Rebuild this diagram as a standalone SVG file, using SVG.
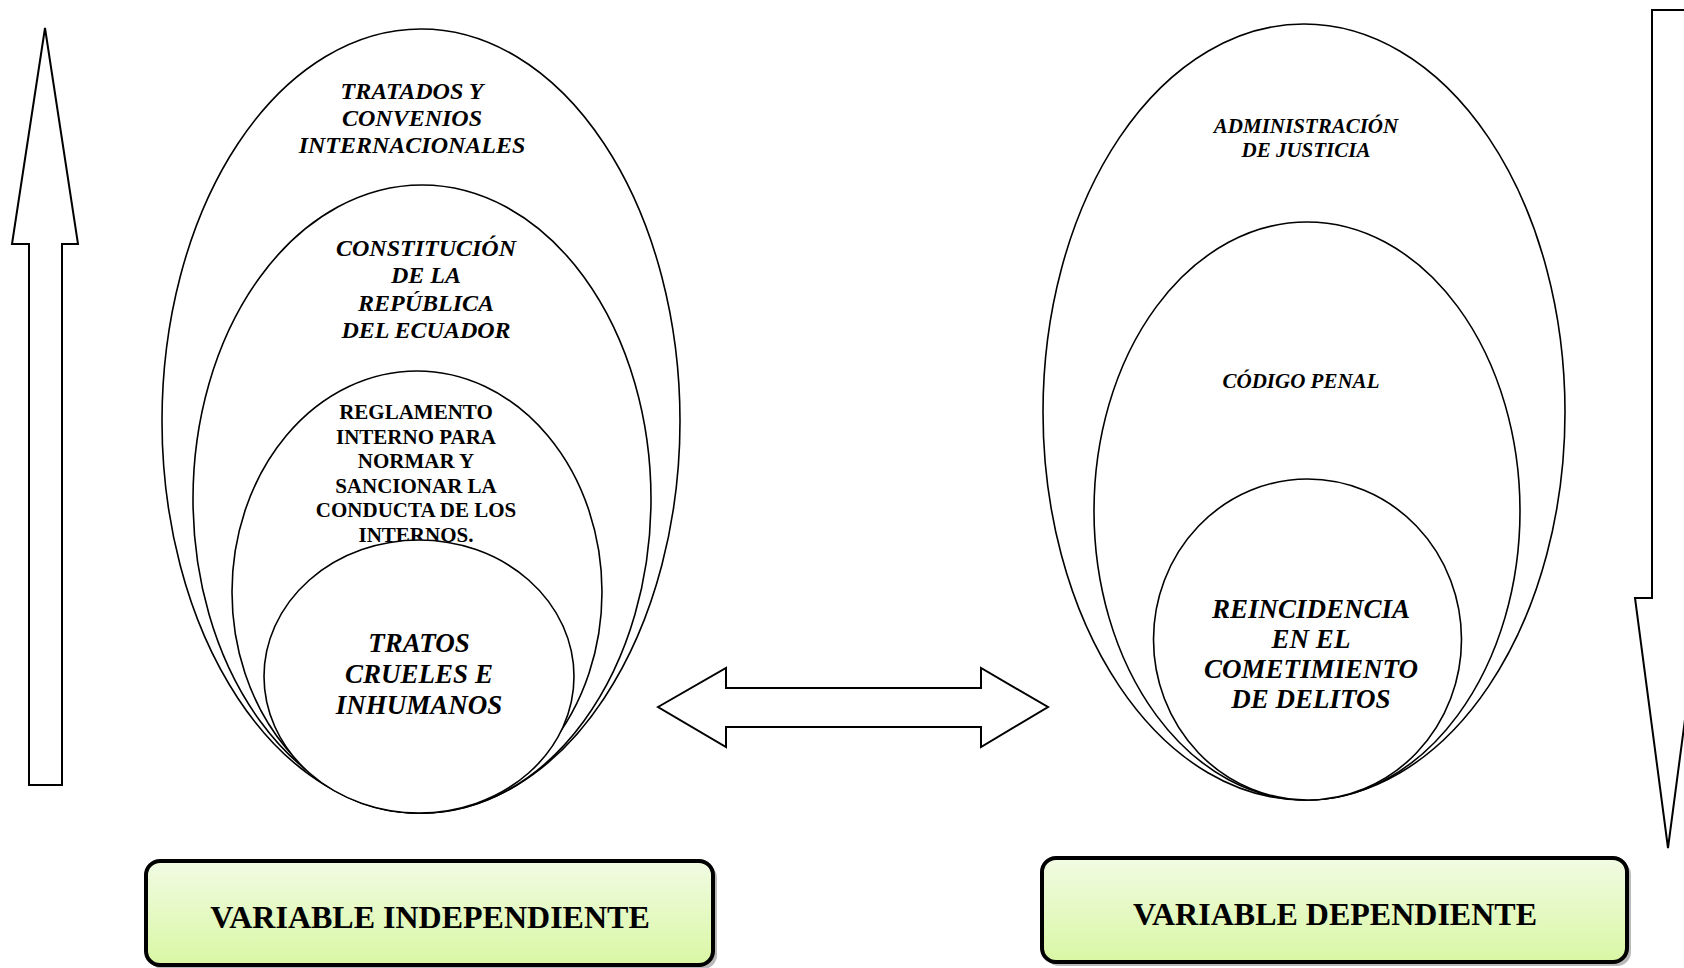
<svg xmlns="http://www.w3.org/2000/svg" width="1684" height="968" viewBox="0 0 1684 968">
<defs>
<linearGradient id="boxfill" x1="0" y1="0" x2="0" y2="1">
<stop offset="0" stop-color="#f1fbe3"/>
<stop offset="1" stop-color="#d9f7a4"/>
</linearGradient>
<style>
.ell{fill:#ffffff;stroke:#000000;stroke-width:1.6}
.arr{fill:#ffffff;stroke:#000000;stroke-width:2;stroke-linejoin:miter}
.bi{font-family:"Liberation Serif","Times New Roman",serif;font-weight:bold;font-style:italic;fill:#000000;text-anchor:middle}
.b{font-family:"Liberation Serif","Times New Roman",serif;font-weight:bold;fill:#000000;text-anchor:middle}
.box{fill:url(#boxfill);stroke:#000000;stroke-width:4}
.shadow{fill:#8a8a8a;opacity:0.6}
</style>
</defs>
<rect width="1684" height="968" fill="#ffffff"/>

<g id="connectors">
<polygon class="arr" points="45,28 78,244 62,244 62,785 29,785 29,244 12,244"/>
<polygon class="arr" points="1652,10 1686,10 1686,598 1701,598 1668,848 1635,598 1652,598"/>
<polygon class="arr" points="658,707 726,668 726,688 981,688 981,668 1048,707 981,747 981,727 726,727 726,747"/>
</g>

<g id="node-tratados">
<ellipse class="ell" cx="421" cy="421" rx="259" ry="392"/>
<text class="bi" font-size="24" x="412" y="99">TRATADOS Y</text>
<text class="bi" font-size="24" x="412" y="126">CONVENIOS</text>
<text class="bi" font-size="24" x="412" y="153">INTERNACIONALES</text>
</g>

<g id="node-constitucion">
<ellipse class="ell" cx="422" cy="499" rx="229" ry="314"/>
<text class="bi" font-size="24" x="426" y="256">CONSTITUCIÓN</text>
<text class="bi" font-size="24" x="426" y="283">DE LA</text>
<text class="bi" font-size="24" x="426" y="311">REPÚBLICA</text>
<text class="bi" font-size="24" x="426" y="338">DEL ECUADOR</text>
</g>

<g id="node-reglamento">
<ellipse class="ell" cx="417" cy="592" rx="185" ry="221"/>
<text class="b" font-size="21" x="416" y="419">REGLAMENTO</text>
<text class="b" font-size="21" x="416" y="443.5">INTERNO PARA</text>
<text class="b" font-size="21" x="416" y="468">NORMAR Y</text>
<text class="b" font-size="21" x="416" y="492.5">SANCIONAR LA</text>
<text class="b" font-size="21" x="416" y="517">CONDUCTA DE LOS</text>
<text class="b" font-size="21" x="416" y="541.5">INTERNOS.</text>
</g>

<g id="node-tratos">
<ellipse class="ell" cx="419" cy="676.5" rx="155" ry="136.5"/>
<text class="bi" font-size="27" x="419" y="652">TRATOS</text>
<text class="bi" font-size="27" x="419" y="683">CRUELES E</text>
<text class="bi" font-size="27" x="419" y="714">INHUMANOS</text>
</g>

<g id="node-administracion">
<ellipse class="ell" cx="1304" cy="412" rx="261" ry="388"/>
<text class="bi" font-size="21" x="1306" y="133">ADMINISTRACIÓN</text>
<text class="bi" font-size="21" x="1306" y="157">DE JUSTICIA</text>
</g>

<g id="node-codigo">
<ellipse class="ell" cx="1307" cy="511" rx="213" ry="289"/>
<text class="bi" font-size="21" x="1301" y="388">CÓDIGO PENAL</text>
</g>

<g id="node-reincidencia">
<ellipse class="ell" cx="1307.5" cy="639.5" rx="154" ry="160.5"/>
<text class="bi" font-size="27" x="1311" y="617.5">REINCIDENCIA</text>
<text class="bi" font-size="27" x="1311" y="647.5">EN EL</text>
<text class="bi" font-size="27" x="1311" y="677.5">COMETIMIENTO</text>
<text class="bi" font-size="27" x="1311" y="707.5">DE DELITOS</text>
</g>

<g id="node-independiente">
<rect class="shadow" x="149" y="864" width="568" height="105" rx="14"/>
<rect class="box" x="146" y="861" width="567" height="104" rx="14"/>
<text class="b" font-size="32" x="430" y="928">VARIABLE INDEPENDIENTE</text>
</g>

<g id="node-dependiente">
<rect class="shadow" x="1045" y="861" width="586" height="105" rx="14"/>
<rect class="box" x="1042" y="858" width="585" height="104" rx="14"/>
<text class="b" font-size="32" x="1335" y="925">VARIABLE DEPENDIENTE</text>
</g>
</svg>
